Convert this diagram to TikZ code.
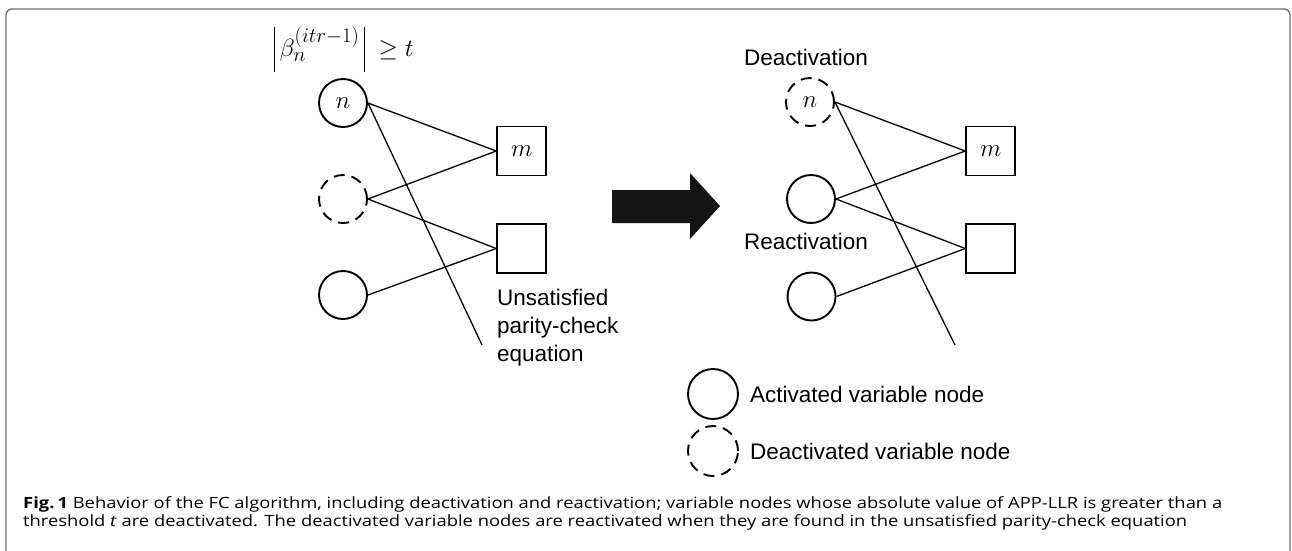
\documentclass[tikz,border=0pt]{standalone}
\usepackage{fontspec}
\usepackage{amsmath,amssymb}
\usepackage{graphicx}
\setmainfont{Liberation Sans}
\newfontfamily\capfont{Open Sans}
\newsavebox{\capbox}
\newcommand{\fitline}[2]{\sbox{\capbox}{#2}\pgfmathsetmacro{\fitsx}{#1/\the\wd\capbox}\scalebox{\fitsx}[1]{\usebox{\capbox}}}
\newcommand{\absbar}{\vcenter{\hbox{\rule{1.1pt}{45pt}}}}
\begin{document}
\begin{tikzpicture}[x=1pt,y=-1pt,
  vnode/.style={circle,draw,line width=1.9pt,minimum size=48pt,inner sep=0pt,font=\fontsize{29}{32}\selectfont},
  dnode/.style={vnode,dash pattern=on 11pt off 7pt},
  cnode/.style={rectangle,draw,line width=1.9pt,minimum size=49pt,inner sep=0pt,font=\fontsize{29}{32}\selectfont},
  edge/.style={line width=1.3pt},
  lbl/.style={font=\fontsize{22.5}{26}\selectfont,inner sep=0pt},
  frame/.style={draw=black!55,line width=1.4pt,rounded corners=6pt}]
\useasboundingbox (0,0) rectangle (1292,550);
\draw[frame] (6,552) -- (6,9) -- (1290,9) -- (1290,552);

% left graph
\node[inner sep=0pt,font=\fontsize{30}{34}\selectfont] (cond) at (344,49.5) {$\absbar\,\beta_n^{(itr-1)}\,\absbar\;\geq t$};
\node[vnode] (n1) at (343,103) {$n$};
\node[dnode] (d1) at (343,199) {};
\node[vnode] (c1) at (343,295) {};
\node[cnode] (m1) at (521.7,151) {$m$};
\node[cnode] (s1) at (521.7,248.5) {};
\coordinate (e1) at (482,345);
\draw[edge] (n1.east) -- (m1.west);
\draw[edge] (d1.east) -- (m1.west);
\draw[edge] (d1.east) -- (s1.west);
\draw[edge] (c1.east) -- (s1.west);
\draw[edge] (n1.east) -- (e1);
\node[lbl,anchor=base west] (uns1) at (497,305) {Unsatisfied};
\node[lbl,anchor=base west] (uns2) at (497,333) {parity-check};
\node[lbl,anchor=base west] (uns3) at (497,361) {equation};

% big arrow
\fill[black!92] (612,190) -- (690,190) -- (690,173) -- (720,206) -- (690,239) -- (690,223) -- (612,223) -- cycle;

% right graph
\node[lbl,anchor=base west] (deact) at (744,65) {Deactivation};
\node[dnode] (n2) at (810,102) {$n$};
\node[vnode] (c2) at (811,199) {};
\node[vnode] (c3) at (811.5,296.5) {};
\node[cnode] (m2) at (990.7,151) {$m$};
\node[cnode] (s2) at (990.7,248.5) {};
\coordinate (e2) at (955,345);
\draw[edge] (n2.east) -- (m2.west);
\draw[edge] (c2.east) -- (m2.west);
\draw[edge] (c2.east) -- (s2.west);
\draw[edge] (c3.east) -- (s2.west);
\draw[edge] (n2.east) -- (e2);
\node[lbl,anchor=base west] (react) at (744,249.5) {Reactivation};

% legend
\node[vnode,minimum size=50pt] (la) at (713,394) {};
\node[dnode,minimum size=50pt] (ld) at (713,451) {};
\node[lbl,anchor=base west] (lat) at (750,402.5) {Activated variable node};
\node[lbl,anchor=base west] (ldt) at (750,459.5) {Deactivated variable node};

% caption
\node[anchor=base west,inner sep=0pt] (cap1) at (23,508) {\capfont\fontsize{15.5}{18}\selectfont\fitline{1199}{\textbf{Fig.\,1} Behavior of the FC algorithm, including deactivation and reactivation; variable nodes whose absolute value of APP-LLR is greater than a}};
\node[anchor=base west,inner sep=0pt] (cap2) at (23,526.5) {\capfont\fontsize{15.5}{18}\selectfont\fitline{1164}{threshold \textit{t} are deactivated. The deactivated variable nodes are reactivated when they are found in the unsatisfied parity-check equation}};
\end{tikzpicture}
\end{document}
